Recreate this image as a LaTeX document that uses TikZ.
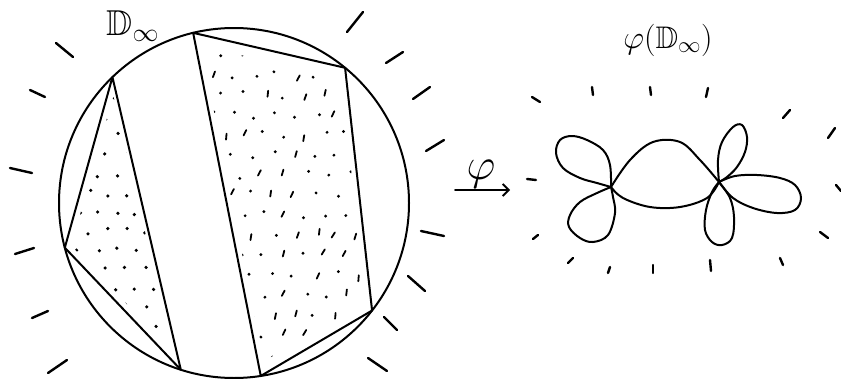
\documentclass[tikz,border=0pt]{standalone}
\usepackage{amssymb}
\usetikzlibrary{arrows.meta,calc}
\begin{document}
\begin{tikzpicture}[x=1pt,y=-1pt,
  ink/.style={line width=2pt,line cap=round,line join=round},
  tickmark/.style={line width=2.4pt,line cap=round},
  dotmark/.style={fill=black},
  lbl/.style={inner sep=0pt}]
\useasboundingbox (0,0) rectangle (841,378);
% ---------- left disc ----------
\coordinate (O) at (234,203);
\draw[ink] (O) circle (175);
\path (O) ++(226:175) coordinate (A);
\path (O) ++(165.2:175) coordinate (B);
\path (O) ++(107.7:175) coordinate (C);
\path (O) ++(256.5:175) coordinate (D);
\path (O) ++(309.4:175) coordinate (E);
\path (O) ++(37.9:175) coordinate (F);
\path (O) ++(81.2:175) coordinate (G);
\draw[ink] (A)--(B)--(C)--cycle;
\draw[ink] (D)--(E)--(F)--(G)--cycle;
% stipple, left triangle
\coordinate (T) at ($1/3*(A)+1/3*(B)+1/3*(C)$);
\begin{scope}
\clip ($(A)!0.12!(T)$)--($(B)!0.12!(T)$)--($(C)!0.12!(T)$)--cycle;
\pgfmathsetseed{7}
\foreach \i in {0,...,8}{\foreach \j in {0,...,16}{
  \pgfmathsetmacro\px{60+\i*19+mod(\j,2)*9.5+rand*3}
  \pgfmathsetmacro\py{60+\j*19+rand*3}
  \fill[dotmark] (\px,\py) circle (1.8);
}}
\end{scope}
% stipple, right quadrilateral
\coordinate (Q) at ($1/4*(D)+1/4*(E)+1/4*(F)+1/4*(G)$);
\begin{scope}
\clip ($(D)!0.08!(Q)$)--($(E)!0.08!(Q)$)--($(F)!0.08!(Q)$)--($(G)!0.08!(Q)$)--cycle;
\pgfmathsetseed{3}
\foreach \i in {0,...,9}{\foreach \j in {0,...,17}{
  \pgfmathsetmacro\px{190+\i*21+mod(\j,2)*10.5+rand*4}
  \pgfmathsetmacro\py{35+\j*20+rand*4}
  \pgfmathsetmacro\r{rnd}
  \ifdim\r pt<0.6pt
    \fill[dotmark] (\px,\py) circle (1.6);
  \else
    \draw[line width=1.8pt,line cap=round] (\px,\py) ++(-72+rand*15:3) -- ++(108+rand*15:6);
  \fi
}}
\end{scope}
% ticks around the disc
\foreach \a/\b/\c/\d in {56/43/73/57, 30/90/45/97, 10/168/32/173, 15/254/34/248,
  32/318/48/311, 48/373/67/360, 347/32/363/12, 386/63/403/52, 413/99/430/87,
  426/151/444/140, 421/231/444/236, 408/276/425/291, 384/317/397/330, 368/358/387/371}
  {\draw[tickmark] (\a,\b) -- (\c,\d);}
\node[lbl] (Dlbl) at (133,26) {\scalebox{1.5}{\fontsize{24}{28}\selectfont$\mathbb{D}_\infty$}};
% ---------- arrow ----------
\coordinate (arrS) at (455,190);
\coordinate (arrE) at (510,190);
\draw[ink,-{Straight Barb[length=6pt,width=12pt,line width=1.8pt]}] (arrS) -- (arrE);
\node[lbl] (philbl) at (481,174) {\scalebox{1.8}{\fontsize{24}{28}\selectfont$\varphi$}};
% ---------- image set ----------
\coordinate (J1) at (611,187);
\coordinate (J2) at (719,182);
\draw[ink] plot[smooth,tension=0.6] coordinates {(J1) (630,160) (653,142) (680,142) (700,160) (J2)};
\draw[ink] plot[smooth,tension=0.6] coordinates {(J1) (623,198) (650,207) (680,207) (707,198) (J2)};
\draw[ink] plot[smooth,tension=0.6] coordinates {(J1) (610,165) (603,150) (587,140) (572,136) (560,140) (556,153) (563,168) (580,178) (597,183) (J1)};
\draw[ink] plot[smooth,tension=0.6] coordinates {(J1) (597,193) (580,202) (570,215) (569,227) (580,238) (593,242) (608,235) (615,213) (613,197) (J1)};
\draw[ink] plot[smooth,tension=0.6] coordinates {(J2) (718,160) (722,142) (733,127) (742,125) (747,137) (745,152) (737,167) (727,177) (J2)};
\draw[ink] plot[smooth,tension=0.6] coordinates {(J2) (735,176) (757,175) (780,178) (795,185) (801,198) (795,210) (777,213) (753,208) (733,198) (J2)};
\draw[ink] plot[smooth,tension=0.6] coordinates {(J2) (712,192) (706,210) (705,230) (712,242) (722,245) (732,238) (734,217) (730,198) (J2)};
\foreach \a/\b/\c/\d in {532/97/540/102, 592/87/593/95, 650/87/651/95, 708/88/706/97,
  790/110/783/118, 835/128/828/138, 836/185/841/191, 820/232/828/238, 780/258/783/265,
  710/260/711/271, 653/265/653/273, 610/267/608/273, 573/258/568/263, 533/239/538/235, 527/179/536/180}
  {\draw[tickmark] (\a,\b) -- (\c,\d);}
\node[lbl] (PDlbl) at (668,40) {\scalebox{1.3}{\fontsize{24}{28}\selectfont$\varphi(\mathbb{D}_\infty)$}};
\end{tikzpicture}
\end{document}
